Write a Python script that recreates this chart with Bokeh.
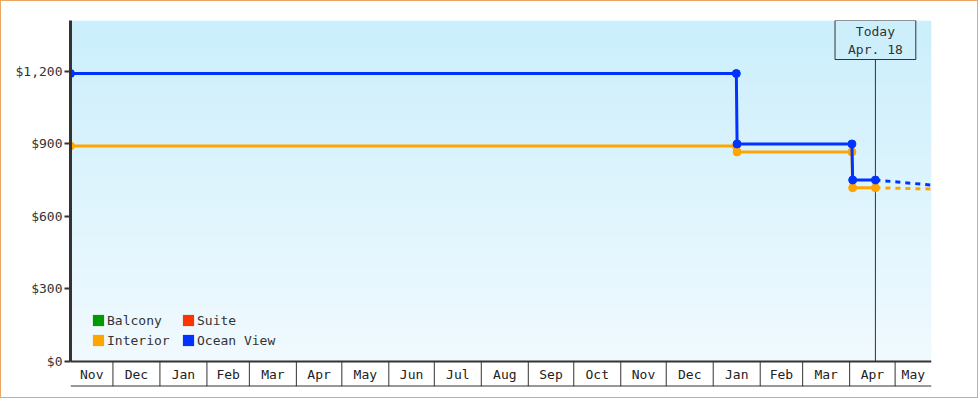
import numpy as np
import pandas as pd
from bokeh.plotting import figure
from bokeh.models import (ColumnDataSource, Range1d, FixedTicker, NumeralTickFormatter,
                          Span, Label, Legend, LegendItem)
from bokeh.core.properties import value
from bokeh.embed import file_html
from bokeh.resources import INLINE

# ---------------- data ----------------
X_START = "2016-11-03 00:00"
X_END = "2018-05-25 00:00"
TODAY = "2018-04-18 00:00"
TODAY_LABEL = "Today\nApr. 18"

SERIES = ["Balcony", "Suite", "Interior", "Ocean View"]
COLORS = ["#009900", "#ff3300", "#ffa500", "#0033ff"]

HIST_DATES = ["2016-11-03 00:00", "2018-01-16 06:00", "2018-01-16 18:00",
              "2018-04-02 12:00", "2018-04-03 00:00", "2018-04-18 00:00"]
OCEAN_PRICES = [1190, 1190, 899, 899, 750, 750]
INTERIOR_PRICES = [891, 891, 866, 866, 718, 718]

FORECAST_DATES = ["2018-04-18 00:00", "2018-05-25 00:00"]
OCEAN_FORECAST = [750, 729]
INTERIOR_FORECAST = [718, 713]

Y_TICKS = [0, 300, 600, 900, 1200]
Y_MAX = 1409
Y_MIN = -103

FONT = "DejaVu Sans Mono"
DARK = "#333333"
GRAD_TOP = (203, 239, 252)
GRAD_BOTTOM = (241, 250, 255)

# ---------------- figure ----------------
x0 = pd.Timestamp(X_START)
x1 = pd.Timestamp(X_END)
p = figure(width=978, height=398, output_backend="svg", toolbar_location=None,
           x_axis_type="datetime", x_axis_location=None,
           x_range=Range1d(x0, x1), y_range=Range1d(Y_MIN, Y_MAX),
           min_border_left=69, min_border_right=48, min_border_top=19, min_border_bottom=13,
           background_fill_color="white", border_fill_color="white",
           outline_line_color=None)
p.grid.visible = False
p.styles = {"border": "1px solid #e8a862"}

# gradient background of the plot area
N = 256
t = np.linspace(0, 1, N)[:, None]
rgb = np.array(GRAD_BOTTOM)[None, :] + (np.array(GRAD_TOP) - np.array(GRAD_BOTTOM))[None, :] * t
img = np.zeros((N, 1), dtype=np.uint32)
view = img.view(dtype=np.uint8).reshape((N, 1, 4))
view[:, 0, 0] = rgb[:, 0]
view[:, 0, 1] = rgb[:, 1]
view[:, 0, 2] = rgb[:, 2]
view[:, 0, 3] = 255
x0_ms = x0.timestamp() * 1000
x1_ms = x1.timestamp() * 1000
p.image_rgba(image=[img], x=x0_ms, y=0, dw=x1_ms - x0_ms, dh=Y_MAX, level="image")

# y axis
ax = p.yaxis[0]
ax.ticker = FixedTicker(ticks=Y_TICKS)
ax.formatter = NumeralTickFormatter(format="$0,0")
ax.bounds = (0, Y_MAX)
ax.axis_line_color = DARK
ax.axis_line_width = 3
ax.major_tick_line_color = DARK
ax.major_tick_line_width = 2
ax.major_tick_out = 6
ax.major_tick_in = 0
ax.minor_tick_line_color = None
ax.major_label_text_font = FONT
ax.major_label_text_font_size = "13px"
ax.major_label_text_color = DARK
ax.major_label_standoff = 2

# month table below the plot
boundaries = list(pd.date_range(x0, x1, freq="MS"))
edges = [x0] + boundaries + [x1]
MONTH_LABELS = [e.strftime("%b") for e in edges[:-1]]
mids = [a + (b - a) / 2 for a, b in zip(edges[:-1], edges[1:])]
p.segment(x0=boundaries, y0=[Y_MIN] * len(boundaries), x1=boundaries, y1=[0] * len(boundaries),
          line_color=DARK, line_width=1)
p.text(x=mids, y=[Y_MIN / 2] * len(mids), text=MONTH_LABELS, text_align="center",
       text_baseline="middle", text_font=value(FONT), text_font_size="13px", text_color="#222222")
p.add_layout(Span(location=0, dimension="width", line_color=DARK, line_width=2))
p.add_layout(Span(location=Y_MIN, dimension="width", line_color=DARK, line_width=2))

# today marker
today = pd.Timestamp(TODAY)
p.segment(x0=[today], y0=[0], x1=[today], y1=[Y_MAX], line_color=DARK, line_width=1)
p.add_layout(Label(x=today.timestamp() * 1000, y=Y_MAX, text=TODAY_LABEL,
                   text_align="center", text_baseline="top",
                   text_font=FONT, text_font_size="13px", text_color=DARK,
                   text_line_height=1.2,
                   border_line_color=DARK, border_line_width=1,
                   background_fill_color="#cdeffc", background_fill_alpha=1.0,
                   padding=(13, 3)))

# series
hist = pd.to_datetime(HIST_DATES, format="%Y-%m-%d %H:%M")
fc = pd.to_datetime(FORECAST_DATES, format="%Y-%m-%d %H:%M")
for prices, fprices, color in [(INTERIOR_PRICES, INTERIOR_FORECAST, COLORS[2]),
                               (OCEAN_PRICES, OCEAN_FORECAST, COLORS[3])]:
    src = ColumnDataSource(dict(x=hist, y=prices))
    p.line("x", "y", source=src, line_color=color, line_width=3)
    p.line(x=fc, y=fprices, line_color=color, line_width=3, line_dash="5 5")
    p.scatter("x", "y", source=src, size=8, fill_color=color, line_color=color)

# legend (square swatches), laid out row by row like the reference
swatch = {}
for name, color in zip(SERIES, COLORS):
    swatch[name] = p.quad(left=[np.nan], right=[np.nan], top=[np.nan], bottom=[np.nan],
                          fill_color=color, line_color=None)
order = [SERIES[0], SERIES[2], SERIES[1], SERIES[3]]  # column-major fill -> row-major look
items = [LegendItem(label=n, renderers=[swatch[n]]) for n in order]
legend = Legend(items=items, ncols=2, location=(21, 36),
                background_fill_alpha=0, border_line_color=None,
                label_text_font=FONT, label_text_font_size="13px", label_text_color=DARK,
                glyph_width=14, glyph_height=14, label_height=20, label_width=74,
                label_standoff=2, spacing=0, padding=0, margin=0)
p.add_layout(legend)

open("out.html", "w").write(file_html(p, INLINE))
